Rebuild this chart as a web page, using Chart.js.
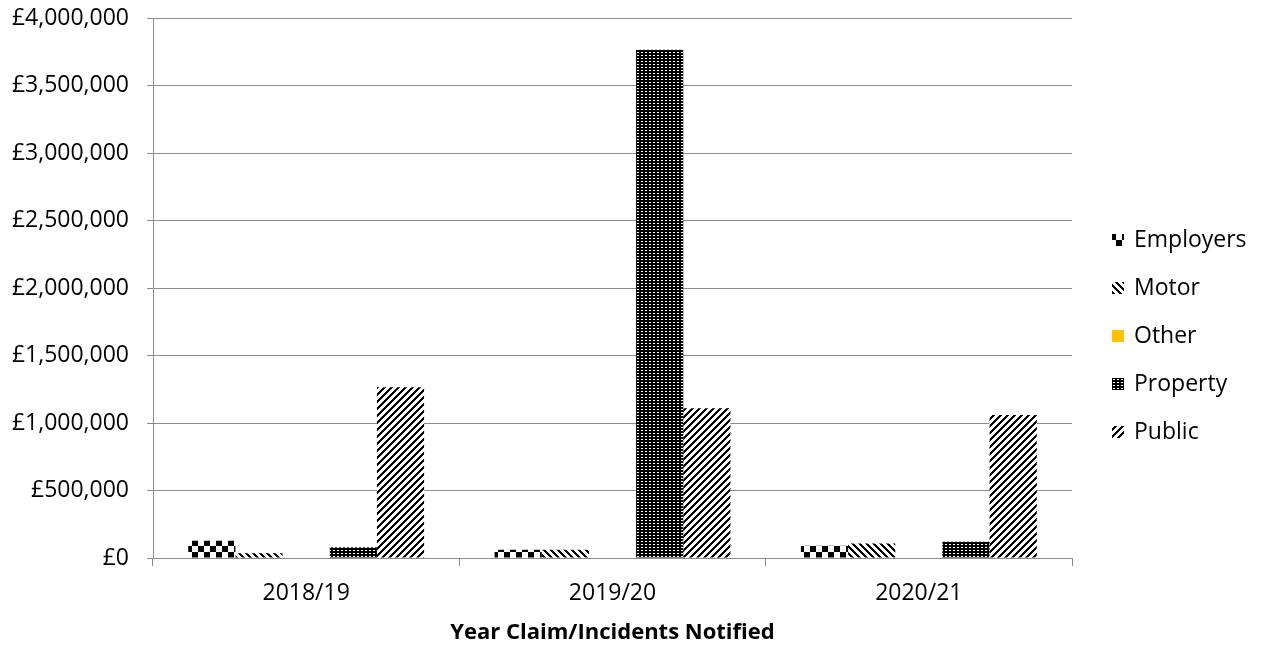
<!DOCTYPE html>
<html>
<head>
<meta charset="utf-8">
<script src="https://cdn.jsdelivr.net/npm/chart.js@4/dist/chart.umd.min.js"></script>
<style>
  html, body { margin: 0; padding: 0; background: #ffffff; }
  #wrap { width: 1263px; height: 648px; }
</style>
</head>
<body>
<div id="wrap"><canvas id="c" width="1263" height="648"></canvas></div>
<script>
// Insurance claim values by year notified (GBP)
const years = ['2018/19', '2019/20', '2020/21'];
const seriesNames = ['Employers', 'Motor', 'Other', 'Property', 'Public'];
const employers = [128000, 62000, 90000];
const motor = [35000, 62000, 108000];
const other = [0, 0, 0];
const property = [80000, 3765000, 120000];
const publicClaims = [1265000, 1110000, 1060000];
const yMax = 4000000;
const yStep = 500000;

const canvas = document.getElementById('c');
const ctx = canvas.getContext('2d');

// Build a black/white bitmap fill from a per-pixel rule
function pixelPattern(w, h, isInk) {
  const tile = document.createElement('canvas');
  tile.width = w; tile.height = h;
  const tctx = tile.getContext('2d');
  const img = tctx.createImageData(w, h);
  for (let y = 0; y < h; y++) {
    for (let x = 0; x < w; x++) {
      const v = isInk(x, y) ? 0 : 255;
      const i = (y * w + x) * 4;
      img.data[i] = v; img.data[i + 1] = v; img.data[i + 2] = v; img.data[i + 3] = 255;
    }
  }
  tctx.putImageData(img, 0, 0);
  return ctx.createPattern(tile, 'repeat');
}

const checkerFill = pixelPattern(12, 12, (x, y) => (Math.floor(x / 6) + Math.floor(y / 6)) % 2 === 0);
const downDiagFill = pixelPattern(7, 7, (x, y) => ((x - y + 70) % 7) < 3);
const dotGridFill = pixelPattern(4, 3, (x, y) => !((x % 4 === 1 || x % 4 === 2) && y % 3 === 1));
const upDiagFill = pixelPattern(7, 7, (x, y) => ((x + y) % 7) < 3);

const fills = [checkerFill, downDiagFill, '#FFC000', dotGridFill, upDiagFill];
const values = [employers, motor, other, property, publicClaims];

const fontFamily = '"Open Sans", Lato, sans-serif';
const fontSize = 23;
const gridColor = '#8c8c8c';

// Legend drawn at the right, using each dataset's own fill
const sideLegend = {
  id: 'sideLegend',
  afterDraw(chart) {
    const c = chart.ctx;
    c.save();
    c.font = fontSize + 'px ' + fontFamily;
    c.textBaseline = 'middle';
    c.textAlign = 'left';
    chart.data.datasets.forEach((ds, i) => {
      const cy = 240 + i * 48;
      c.fillStyle = ds.backgroundColor;
      c.fillRect(1112, cy - 6, 12, 12);
      c.fillStyle = '#000000';
      c.fillText(ds.label, 1134, cy);
    });
    c.restore();
  }
};

new Chart(canvas, {
  type: 'bar',
  data: {
    labels: years,
    datasets: seriesNames.map((name, i) => ({
      label: name,
      data: values[i],
      backgroundColor: fills[i],
      borderWidth: 0,
      barPercentage: 1.0,
      categoryPercentage: 0.77
    }))
  },
  options: {
    responsive: false,
    devicePixelRatio: 1,
    animation: false,
    layout: { padding: { top: 18, right: 191, left: 0, bottom: 0 } },
    plugins: {
      legend: { display: false },
      tooltip: { enabled: false }
    },
    scales: {
      x: {
        grid: {
          display: true,
          offset: true,
          drawOnChartArea: false,
          drawTicks: true,
          tickLength: 8,
          color: gridColor
        },
        border: { display: true, color: gridColor, width: 1 },
        ticks: {
          color: '#000000',
          font: { family: fontFamily, size: fontSize },
          padding: 14,
          maxRotation: 0
        },
        title: {
          display: true,
          text: 'Year Claim/Incidents Notified',
          color: '#000000',
          font: { family: fontFamily, size: fontSize - 1, weight: 'bold' },
          padding: { top: 0, bottom: 2 }
        },
        afterFit(scale) { scale.height = 90; }
      },
      y: {
        min: 0,
        max: yMax,
        grid: {
          color: gridColor,
          drawTicks: true,
          tickLength: 6
        },
        border: { display: true, color: gridColor, width: 1 },
        ticks: {
          stepSize: yStep,
          color: '#000000',
          font: { family: fontFamily, size: fontSize },
          padding: 18,
          callback: (v) => '£' + Number(v).toLocaleString('en-GB')
        },
        afterFit(scale) {
          scale.width = 153;
          scale.paddingTop = 0;
          scale.paddingBottom = 0;
        }
      }
    }
  },
  plugins: [sideLegend]
});
</script>
</body>
</html>
